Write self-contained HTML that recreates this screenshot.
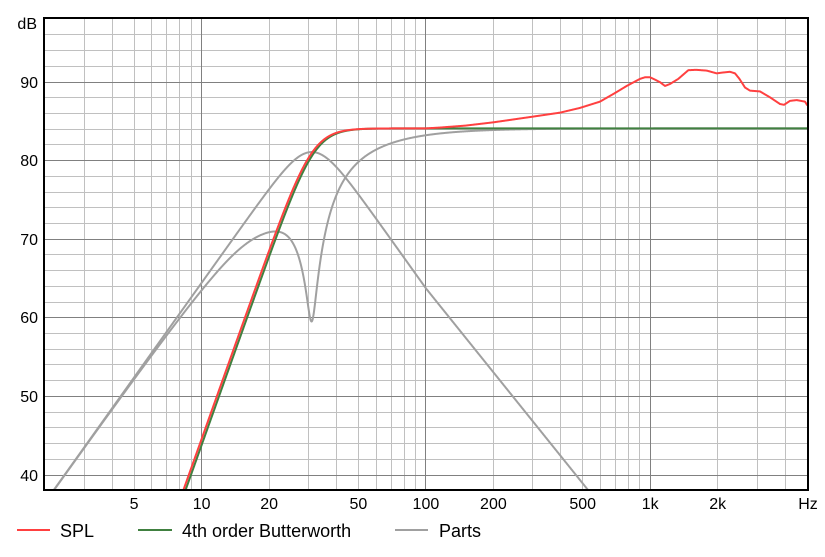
<!DOCTYPE html>
<html><head><meta charset="utf-8">
<style>
html,body{margin:0;padding:0;background:#fff;overflow:hidden;width:825px;height:557px;}
svg{display:block;}
text{font-family:"Liberation Sans",Arial,sans-serif;fill:#000;}
</style></head>
<body>
<svg id="c" xmlns="http://www.w3.org/2000/svg" width="825" height="557" viewBox="0 0 825 557">
<rect x="0" y="0" width="825" height="557" fill="#fff"/>
<defs><clipPath id="pc"><rect x="44" y="18" width="764" height="472"/></clipPath></defs>
<g id="gridMinor"></g>
<g id="gridMajor"></g>
<g clip-path="url(#pc)" fill="none" stroke-linejoin="round" stroke-linecap="round">
<path id="drv" stroke="#a0a0a0" stroke-width="2"/>
<path id="prt" stroke="#a0a0a0" stroke-width="2"/>
<path id="grn" stroke="#408040" stroke-width="2"/>
<path id="red" stroke="#ff4040" stroke-width="2"/>
</g>
<rect x="44" y="18" width="764" height="472" fill="none" stroke="#000" stroke-width="2"/>
<g font-size="16" text-anchor="end">
<text x="37" y="29">dB</text>
<text x="38" y="88">90</text>
<text x="38" y="166">80</text>
<text x="38" y="245">70</text>
<text x="38" y="323">60</text>
<text x="38" y="402">50</text>
<text x="38" y="481">40</text>
</g>
<g id="xl" font-size="16" text-anchor="middle"></g>
<line x1="17" y1="530" x2="50" y2="530" stroke="#ff4040" stroke-width="2"/>
<text x="60" y="537" font-size="18">SPL</text>
<line x1="138" y1="530" x2="172" y2="530" stroke="#408040" stroke-width="2"/>
<text x="182" y="537" font-size="18">4th order Butterworth</text>
<line x1="395" y1="530" x2="428" y2="530" stroke="#a0a0a0" stroke-width="2"/>
<text x="439" y="537" font-size="18">Parts</text>
</svg>
<script>
(function(){
function X(f){return 44.8+224.3*Math.log10(f/2);}
function Y(d){return 475-(d-40)*7.86;}
var gm='',gM='';
for(var dec=1;dec<=1000;dec*=10){for(var m=1;m<=9;m++){var f=m*dec;if(f<=2||f>=5000)continue;
var x=Math.floor(X(f))+0.5;var s='<line x1="'+x+'" y1="18" x2="'+x+'" y2="490" stroke="'+(m==1?'#808080':'#c0c0c0')+'" stroke-width="1"/>';
if(m==1)gM+=s;else gm+=s;}}
for(var d=40;d<=96;d+=2){var y=Math.floor(Y(d))+0.5;var s='<line x1="44" y1="'+y+'" x2="808" y2="'+y+'" stroke="'+(d%10==0?'#808080':'#c0c0c0')+'" stroke-width="1"/>';
if(d%10==0)gM+=s;else gm+=s;}
document.getElementById('gridMinor').innerHTML=gm;
document.getElementById('gridMajor').innerHTML=gM;
var labs=[[5,'5'],[10,'10'],[20,'20'],[50,'50'],[100,'100'],[200,'200'],[500,'500'],[1000,'1k'],[2000,'2k']];
var xl='';labs.forEach(function(l){xl+='<text x="'+X(l[0]).toFixed(1)+'" y="509">'+l[1]+'</text>';});
xl+='<text x="808" y="509">Hz</text>';
document.getElementById('xl').innerHTML=xl;
function Dm(w){var re=Math.pow(w,4)-3.4142*w*w+1,im=-2.6131*w*w*w+2.6131*w;return Math.hypot(re,im);}
var L=84.1;
var rise=[[100,0],[115,0.1],[150,0.35],[200,0.77],[301,1.5],[396,2.0],[486,2.6],[597,3.4],[697,4.5],[786,5.4],[901,6.3],[948,6.5],[999,6.5],[1051,6.2],[1107,5.87],[1164,5.4],[1226,5.65],[1335,6.3],[1479,7.4],[1600,7.45],[1787,7.35],[1979,7.0],[2100,7.1],[2268,7.2],[2389,7.0],[2500,6.3],[2647,5.2],[2787,4.8],[3088,4.7],[3422,3.95],[3791,3.1],[3950,3.0],[4202,3.5],[4501,3.6],[4900,3.4],[5000,3.0]];
function R(f){if(f<=100)return 0;for(var i=1;i<rise.length;i++){if(f<=rise[i][0]){var a=rise[i-1],b=rise[i];var t=(Math.log(f)-Math.log(a[0]))/(Math.log(b[0])-Math.log(a[0]));return a[1]+t*(b[1]-a[1]);}}return rise[rise.length-1][1];}
var N=2400,pd='',pp='',pg='',pr='';
function cy(v){return Math.max(10,Math.min(495,Y(v))).toFixed(2);}
for(var i=0;i<=N;i++){
var f=2*Math.pow(2500,i/N);var x=X(f).toFixed(2);
var w=f/31, D=Dm(w);
var lg=Math.log10(f/22)/0.15;
var drv=L+20*Math.log10(w*w*Math.hypot(1-w*w,w/11.5)/D)-0.9*Math.exp(-lg*lg);
var prt=L+20*Math.log10(w*w/D)+(f>100?4.5*Math.log10(f/100):0);
var wg=f/31.9;var grn=L+20*Math.log10(Math.pow(wg,4)/Dm(wg));
var wr=f/31.2;var red=L+20*Math.log10(Math.pow(wr,4)/Dm(wr))+R(f);
var c=(i==0?'M':'L');
pd+=c+x+','+cy(drv);pp+=c+x+','+cy(prt);pg+=c+x+','+cy(grn);pr+=c+x+','+cy(red);
}
document.getElementById('drv').setAttribute('d',pd);
document.getElementById('prt').setAttribute('d',pp);
document.getElementById('grn').setAttribute('d',pg);
document.getElementById('red').setAttribute('d',pr);
})();
</script>
</body></html>
